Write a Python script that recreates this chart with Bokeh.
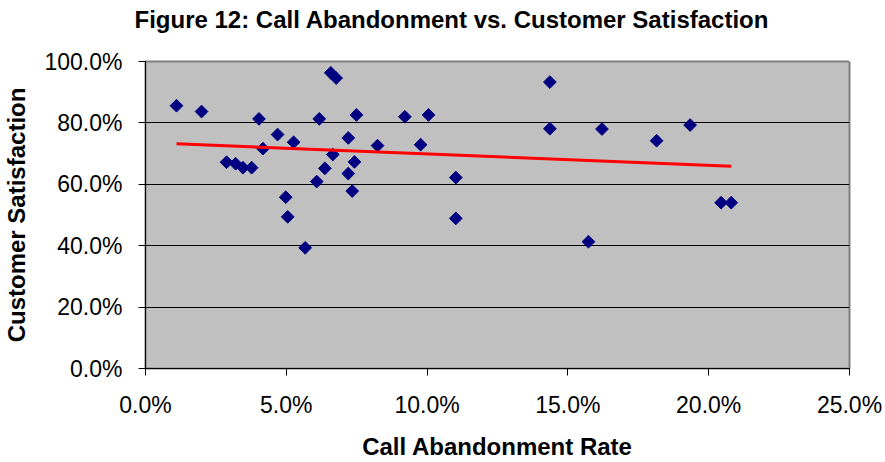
from bokeh.plotting import figure
from bokeh.models import FixedTicker, PrintfTickFormatter, LinearAxis
from bokeh.embed import file_html
from bokeh.resources import INLINE
import numpy as np

# call abandonment rate (%) and customer satisfaction (%)
abandon_rate = [1.10, 1.99, 2.88, 3.20, 3.46, 3.77, 4.03, 4.17, 4.69, 4.98,
                5.05, 5.26, 5.67, 6.08, 6.17, 6.37, 6.58, 6.77, 6.65, 7.20,
                7.20, 7.34, 7.42, 7.49, 8.24, 9.21, 9.77, 10.05, 11.02, 11.02,
                14.36, 14.36, 15.73, 16.21, 18.15, 19.34, 20.44, 20.80]
satisfaction = [85.6, 83.7, 67.2, 66.7, 65.4, 65.4, 81.3, 71.6, 76.2, 55.8,
                49.4, 73.7, 39.3, 60.9, 81.3, 65.2, 96.3, 94.6, 69.7, 75.1,
                63.5, 57.8, 67.3, 82.6, 72.6, 82.0, 72.9, 82.6, 62.2, 48.9,
                93.3, 78.1, 41.3, 78.0, 74.2, 79.3, 54.0, 54.0]

# linear trend line end points
trend_x = [1.10, 20.80]
trend_y = [73.2, 65.9]

x_ticks = [0, 5, 10, 15, 20, 25]
y_ticks = [0, 20, 40, 60, 80, 100]

p = figure(width=885, height=462, x_range=(0, 25), y_range=(0, 100),
           output_backend="svg", toolbar_location=None,
           min_border_left=145, min_border_right=36,
           min_border_top=61, min_border_bottom=93,
           x_axis_label="Call Abandonment Rate",
           y_axis_label="Customer Satisfaction")

xa = p.below[0]
ya = p.left[0]

p.title.text = "Figure 12: Call Abandonment vs. Customer Satisfaction"
p.title.align = "left"
p.title.offset = -11
p.title.standoff = 0
p.title.text_font = "Liberation Sans"
p.title.text_font_size = "24px"
p.title.text_font_style = "bold"
p.title.text_color = "black"

# blank axis above the frame (one white tick, no label), only to push the title up
spacer = LinearAxis(ticker=FixedTicker(ticks=[x_ticks[-1]]), major_tick_in=0,
                    major_tick_out=29, axis_line_color=None,
                    major_tick_line_color="white", minor_tick_line_color=None,
                    major_label_standoff=0, major_label_text_font_size="0px",
                    major_label_overrides={x_ticks[-1]: ""})
p.add_layout(spacer, "above")

p.background_fill_color = "#C0C0C0"
p.border_fill_color = "white"
p.outline_line_color = "#808080"
p.outline_line_width = 2

p.xgrid.visible = False
p.ygrid.ticker = FixedTicker(ticks=[20, 40, 60, 80])
p.ygrid.grid_line_color = "black"
p.ygrid.grid_line_width = 1

for ax, ticks in ((xa, x_ticks), (ya, y_ticks)):
    ax.ticker = FixedTicker(ticks=ticks)
    ax.formatter = PrintfTickFormatter(format="%.1f%%")
    ax.axis_line_color = "black"
    ax.axis_line_width = 1
    ax.major_tick_line_color = "black"
    ax.major_tick_in = 0
    ax.major_tick_out = 7
    ax.minor_tick_line_color = None
    ax.major_label_text_font = "Liberation Sans"
    ax.major_label_text_font_size = "23px"
    ax.major_label_text_color = "black"
    ax.axis_label_text_font = "Liberation Sans"
    ax.axis_label_text_font_size = "24px"
    ax.axis_label_text_font_style = "bold"
    ax.axis_label_text_color = "black"

xa.major_label_standoff = 16
xa.axis_label_standoff = 12
ya.major_label_standoff = 16
ya.axis_label_standoff = 11

p.scatter(abandon_rate, satisfaction, marker="square", size=9, angle=np.pi / 4,
          fill_color="#000080", line_color="#000080")
p.line(trend_x, trend_y, line_color="#FF0000", line_width=3)

open("out.html", "w").write(file_html(p, INLINE))
